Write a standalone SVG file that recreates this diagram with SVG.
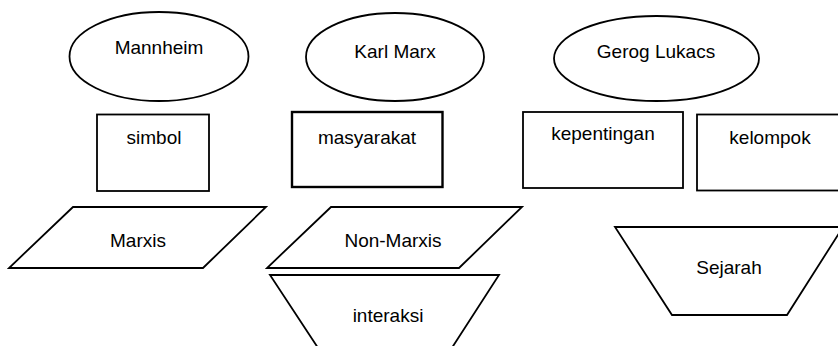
<svg xmlns="http://www.w3.org/2000/svg" width="838" height="346" viewBox="0 0 838 346">
<style>
.s{fill:#fff;stroke:#000;stroke-width:1.8}
.b{stroke-width:2.4}
text{font-family:"Liberation Sans",Arial,sans-serif;font-size:19px;fill:#000;text-anchor:middle}
</style>
<rect width="838" height="346" fill="#fff"/>
<g id="connectors"/>
<g id="mannheim"><ellipse class="s" cx="159" cy="56.5" rx="89.5" ry="44.5"/><text x="159" y="54">Mannheim</text></g>
<g id="karlmarx"><ellipse class="s" cx="395" cy="57" rx="89" ry="44"/><text x="395" y="58">Karl Marx</text></g>
<g id="lukacs"><ellipse class="s" cx="656.5" cy="58.5" rx="102.5" ry="42.5"/><text x="656" y="58">Gerog Lukacs</text></g>
<g id="simbol"><rect class="s" x="97" y="114.5" width="112" height="76.5"/><text x="154" y="144">simbol</text></g>
<g id="masyarakat"><rect class="s b" x="292" y="112" width="150.5" height="75"/><text x="367" y="144">masyarakat</text></g>
<g id="kepentingan"><rect class="s" x="523" y="112" width="160" height="76"/><text x="603" y="140">kepentingan</text></g>
<g id="kelompok"><rect class="s" x="697" y="114.5" width="150" height="76"/><text x="770" y="144">kelompok</text></g>
<g id="marxis"><polygon class="s" points="73,207 266,207 203,268 9,268"/><text x="138" y="247">Marxis</text></g>
<g id="nonmarxis"><polygon class="s" points="331,207 522,207 459,268 267,268"/><text x="393" y="247">Non-Marxis</text></g>
<g id="interaksi"><polygon class="s" points="270,275 499,275 446,357 324,357"/><text x="388" y="322">interaksi</text></g>
<g id="sejarah"><polygon class="s" points="615,227 843,227 787,315 672,315"/><text x="729" y="274">Sejarah</text></g>
</svg>
